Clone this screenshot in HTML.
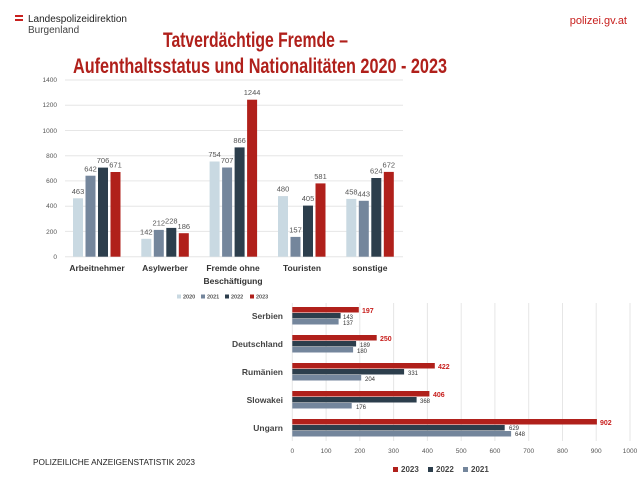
<!DOCTYPE html>
<html><head><meta charset="utf-8"><style>
body{margin:0;background:#fff;}
svg{display:block;font-family:"Liberation Sans",sans-serif;}
</style></head><body>
<svg width="640" height="482" viewBox="0 0 640 482">
<rect width="640" height="482" fill="#fff"/>
<rect x="15" y="15" width="8" height="2" fill="#c8201e"/>
<rect x="15" y="19" width="8" height="2" fill="#c8201e"/>
<text x="28" y="22" font-size="10" fill="#222">Landespolizeidirektion</text>
<text x="28" y="33" font-size="10" fill="#444">Burgenland</text>
<text x="627" y="24" font-size="11" fill="#c8201e" text-anchor="end">polizei.gv.at</text>
<text x="163" y="47" font-size="21" font-weight="bold" fill="#b0201b" textLength="185" lengthAdjust="spacingAndGlyphs">Tatverdächtige Fremde –</text>
<text x="73" y="73" font-size="21" font-weight="bold" fill="#b0201b" textLength="374" lengthAdjust="spacingAndGlyphs">Aufenthaltsstatus und Nationalitäten 2020 - 2023</text>

<g stroke="#e6e6e6" stroke-width="1">
<line x1="65" x2="403" y1="80" y2="80"/><line x1="65" x2="403" y1="105.2" y2="105.2"/>
<line x1="65" x2="403" y1="130.5" y2="130.5"/><line x1="65" x2="403" y1="155.7" y2="155.7"/>
<line x1="65" x2="403" y1="180.9" y2="180.9"/><line x1="65" x2="403" y1="206.2" y2="206.2"/>
<line x1="65" x2="403" y1="231.4" y2="231.4"/><line x1="65" x2="403" y1="256.7" y2="256.7"/>
</g>
<g font-size="6.5" fill="#555" text-anchor="end">
<text x="57" y="82">1400</text><text x="57" y="107">1200</text><text x="57" y="133">1000</text>
<text x="57" y="158">800</text><text x="57" y="183">600</text><text x="57" y="208">400</text>
<text x="57" y="234">200</text><text x="57" y="259">0</text>
</g>
<g>
<rect x="73" y="198.3" width="10" height="58.4" fill="#c9d9e2"/>
<rect x="85.5" y="175.7" width="10" height="81" fill="#74869c"/>
<rect x="98" y="167.6" width="10" height="89.1" fill="#2c3e4c"/>
<rect x="110.5" y="172" width="10" height="84.7" fill="#b0201b"/>
<rect x="141.3" y="238.8" width="10" height="17.9" fill="#c9d9e2"/>
<rect x="153.8" y="229.9" width="10" height="26.8" fill="#74869c"/>
<rect x="166.3" y="227.9" width="10" height="28.8" fill="#2c3e4c"/>
<rect x="178.8" y="233.2" width="10" height="23.5" fill="#b0201b"/>
<rect x="209.6" y="161.5" width="10" height="95.2" fill="#c9d9e2"/>
<rect x="222.1" y="167.5" width="10" height="89.2" fill="#74869c"/>
<rect x="234.6" y="147.4" width="10" height="109.3" fill="#2c3e4c"/>
<rect x="247.1" y="99.7" width="10" height="157" fill="#b0201b"/>
<rect x="278" y="196.1" width="10" height="60.6" fill="#c9d9e2"/>
<rect x="290.5" y="236.9" width="10" height="19.8" fill="#74869c"/>
<rect x="303" y="205.6" width="10" height="51.1" fill="#2c3e4c"/>
<rect x="315.5" y="183.4" width="10" height="73.3" fill="#b0201b"/>
<rect x="346.3" y="198.9" width="10" height="57.8" fill="#c9d9e2"/>
<rect x="358.8" y="200.8" width="10" height="55.9" fill="#74869c"/>
<rect x="371.3" y="178" width="10" height="78.7" fill="#2c3e4c"/>
<rect x="383.8" y="171.9" width="10" height="84.8" fill="#b0201b"/>
</g>
<g font-size="7.5" fill="#555" text-anchor="middle">
<text x="78" y="194">463</text><text x="90.5" y="171.5">642</text><text x="103" y="163">706</text><text x="115.5" y="167.5">671</text>
<text x="146.3" y="234.5">142</text><text x="158.8" y="225.5">212</text><text x="171.3" y="223.5">228</text><text x="183.8" y="229">186</text>
<text x="214.6" y="157">754</text><text x="227.1" y="163">707</text><text x="239.6" y="143">866</text><text x="252.1" y="95">1244</text>
<text x="283" y="191.5">480</text><text x="295.5" y="232.5">157</text><text x="308" y="201">405</text><text x="320.5" y="179">581</text>
<text x="351.3" y="194.5">458</text><text x="363.8" y="196.5">443</text><text x="376.3" y="173.5">624</text><text x="388.8" y="167.5">672</text>
</g>
<g font-size="8.5" fill="#333" text-anchor="middle" font-weight="bold">
<text x="97" y="271">Arbeitnehmer</text><text x="165" y="271">Asylwerber</text>
<text x="233" y="271">Fremde ohne</text><text x="233" y="284">Beschäftigung</text>
<text x="302" y="271">Touristen</text><text x="370" y="271">sonstige</text>
</g>
<g font-size="5.5" fill="#555" font-weight="bold">
<rect x="177" y="294.5" width="4" height="4" fill="#c9d9e2"/><text x="183" y="298.5">2020</text>
<rect x="201" y="294.5" width="4" height="4" fill="#74869c"/><text x="207" y="298.5">2021</text>
<rect x="225" y="294.5" width="4" height="4" fill="#2c3e4c"/><text x="231" y="298.5">2022</text>
<rect x="250" y="294.5" width="4" height="4" fill="#b0201b"/><text x="256" y="298.5">2023</text>
</g>

<g stroke="#e6e6e6" stroke-width="1">
<line x1="292.3" x2="292.3" y1="303" y2="441"/><line x1="326.1" x2="326.1" y1="303" y2="441"/>
<line x1="359.8" x2="359.8" y1="303" y2="441"/><line x1="393.6" x2="393.6" y1="303" y2="441"/>
<line x1="427.4" x2="427.4" y1="303" y2="441"/><line x1="461.2" x2="461.2" y1="303" y2="441"/>
<line x1="494.9" x2="494.9" y1="303" y2="441"/><line x1="528.7" x2="528.7" y1="303" y2="441"/>
<line x1="562.5" x2="562.5" y1="303" y2="441"/><line x1="596.2" x2="596.2" y1="303" y2="441"/>
<line x1="630" x2="630" y1="303" y2="441"/>
</g>
<g font-size="6.5" fill="#555" text-anchor="middle">
<text x="292.3" y="453">0</text><text x="326.1" y="453">100</text><text x="359.8" y="453">200</text>
<text x="393.6" y="453">300</text><text x="427.4" y="453">400</text><text x="461.2" y="453">500</text>
<text x="494.9" y="453">600</text><text x="528.7" y="453">700</text><text x="562.5" y="453">800</text>
<text x="596.2" y="453">900</text><text x="630" y="453">1000</text>
</g>
<g>
<rect x="292.3" y="307" width="66.5" height="5.5" fill="#b0201b"/>
<rect x="292.3" y="313" width="48.3" height="5.5" fill="#2c3e4c"/>
<rect x="292.3" y="319" width="46.3" height="5.5" fill="#74869c"/>
<rect x="292.3" y="335" width="84.4" height="5.5" fill="#b0201b"/>
<rect x="292.3" y="341" width="63.8" height="5.5" fill="#2c3e4c"/>
<rect x="292.3" y="347" width="60.8" height="5.5" fill="#74869c"/>
<rect x="292.3" y="363" width="142.5" height="5.5" fill="#b0201b"/>
<rect x="292.3" y="369" width="111.8" height="5.5" fill="#2c3e4c"/>
<rect x="292.3" y="375" width="68.9" height="5.5" fill="#74869c"/>
<rect x="292.3" y="391" width="137.1" height="5.5" fill="#b0201b"/>
<rect x="292.3" y="397" width="124.3" height="5.5" fill="#2c3e4c"/>
<rect x="292.3" y="403" width="59.4" height="5.5" fill="#74869c"/>
<rect x="292.3" y="419" width="304.6" height="5.5" fill="#b0201b"/>
<rect x="292.3" y="425" width="212.4" height="5.5" fill="#2c3e4c"/>
<rect x="292.3" y="431" width="218.8" height="5.5" fill="#74869c"/>
</g>
<g font-size="7" font-weight="bold" fill="#c8201e">
<text x="362" y="313">197</text><text x="380" y="341">250</text><text x="438" y="369">422</text>
<text x="433" y="397">406</text><text x="600" y="425">902</text>
</g>
<g font-size="6" fill="#333">
<text x="343" y="319">143</text><text x="343" y="325">137</text>
<text x="360" y="347">189</text><text x="357" y="353">180</text>
<text x="408" y="375">331</text><text x="365" y="381">204</text>
<text x="420" y="403">368</text><text x="356" y="409">176</text>
<text x="509" y="430">629</text><text x="515" y="436">648</text>
</g>
<g font-size="8.5" font-weight="bold" fill="#444" text-anchor="end">
<text x="283" y="319">Serbien</text><text x="283" y="347">Deutschland</text>
<text x="283" y="375">Rumänien</text><text x="283" y="403">Slowakei</text><text x="283" y="431">Ungarn</text>
</g>
<g font-size="8" font-weight="bold" fill="#444">
<rect x="393" y="467" width="5" height="5" fill="#b0201b"/><text x="401" y="472">2023</text>
<rect x="428" y="467" width="5" height="5" fill="#2c3e4c"/><text x="436" y="472">2022</text>
<rect x="463" y="467" width="5" height="5" fill="#74869c"/><text x="471" y="472">2021</text>
</g>
<text x="33" y="465" font-size="8" fill="#222" textLength="162" lengthAdjust="spacingAndGlyphs">POLIZEILICHE ANZEIGENSTATISTIK  2023</text>
</svg>
</body></html>
